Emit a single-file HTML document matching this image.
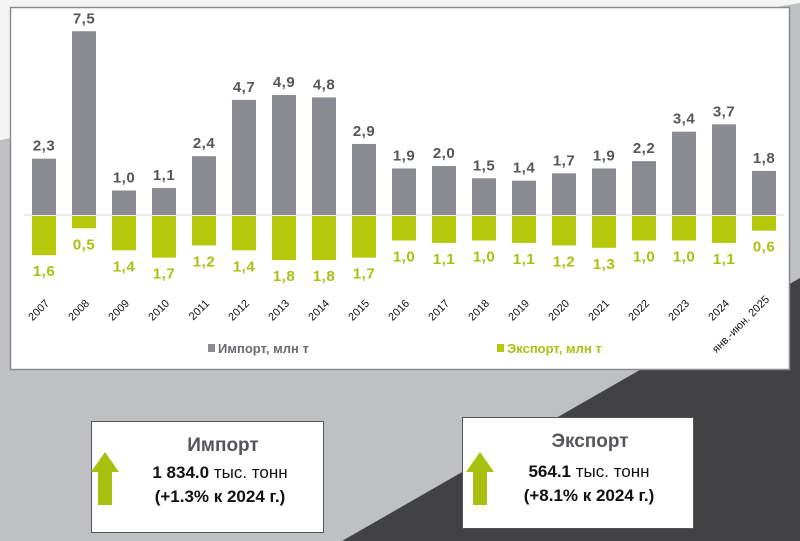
<!DOCTYPE html>
<html><head><meta charset="utf-8"><style>
html,body{margin:0;padding:0;width:800px;height:541px;overflow:hidden;font-family:"Liberation Sans","DejaVu Sans",sans-serif;}
</style></head><body>
<svg width="800" height="541" viewBox="0 0 800 541" xmlns="http://www.w3.org/2000/svg" font-family="Liberation Sans, DejaVu Sans, sans-serif">
<rect width="800" height="541" fill="#bfc0c2"/>
<polygon points="0,0 800,0 800,3 0,140" fill="#f4f4f4"/>
<polygon points="342,541 800,278 800,541" fill="#424244"/>
<rect x="10.5" y="7.5" width="779" height="362" fill="#fff" stroke="#8a8b8e" stroke-width="1.5"/>
<line x1="24" y1="215" x2="784" y2="215" stroke="#d8d8d8" stroke-width="1"/>
<g id="bars"></g>
<g font-size="15" font-weight="bold" fill="#555659" text-anchor="middle" id="vals" letter-spacing="0.5"></g>
<g font-size="11" fill="#111" id="years"></g>
<rect x="208" y="344" width="7" height="8" fill="#8a8b90"/>
<text x="218" y="353" font-size="13" font-weight="bold" fill="#6a6b6e">Импорт, млн т</text>
<rect x="497" y="344" width="7" height="8" fill="#b5c90a"/>
<text x="507" y="353" font-size="13" font-weight="bold" fill="#a9c010">Экспорт, млн т</text>

<rect x="91.5" y="421.5" width="232" height="111" fill="#fff" stroke="#555" stroke-width="1"/>
<polygon points="105,452 91,472 98,472 98,505 112,505 112,472 119,472" fill="#a8c010"/>
<text x="223" y="451" font-size="19" font-weight="bold" fill="#555659" text-anchor="middle">Импорт</text>
<text x="220" y="478" font-size="17" fill="#111" text-anchor="middle"><tspan font-weight="bold">1 834.0</tspan> тыс. тонн</text>
<text x="220" y="502" font-size="17" font-weight="bold" fill="#111" text-anchor="middle">(+1.3% к 2024 г.)</text>

<rect x="462.5" y="417.5" width="231" height="111" fill="#fff" stroke="#555" stroke-width="1"/>
<polygon points="480,452 466,472 473,472 473,505 487,505 487,472 494,472" fill="#a8c010"/>
<text x="590" y="447" font-size="19" font-weight="bold" fill="#555659" text-anchor="middle">Экспорт</text>
<text x="589" y="477" font-size="17" fill="#111" text-anchor="middle"><tspan font-weight="bold">564.1</tspan> тыс. тонн</text>
<text x="589" y="501" font-size="17" font-weight="bold" fill="#111" text-anchor="middle">(+8.1% к 2024 г.)</text>
</svg>
<script>
var imp=[2.3,7.5,1.0,1.1,2.4,4.7,4.9,4.8,2.9,1.9,2.0,1.5,1.4,1.7,1.9,2.2,3.4,3.7,1.8];
var exp=[1.6,0.5,1.4,1.7,1.2,1.4,1.8,1.8,1.7,1.0,1.1,1.0,1.1,1.2,1.3,1.0,1.0,1.1,0.6];
var yrs=["2007","2008","2009","2010","2011","2012","2013","2014","2015","2016","2017","2018","2019","2020","2021","2022","2023","2024","янв.-июн. 2025"];
var ns="http://www.w3.org/2000/svg",k=24.5,z=215;
var b=document.getElementById("bars"),v=document.getElementById("vals"),y=document.getElementById("years");
function el(t,a,p,txt){var e=document.createElementNS(ns,t);for(var q in a)e.setAttribute(q,a[q]);if(txt)e.textContent=txt;p.appendChild(e);return e;}
for(var i=0;i<19;i++){var c=44+i*40;
var h=imp[i]*k;el("rect",{x:c-12,y:z-h,width:24,height:h,fill:"#8a8b90"},b);
var he=exp[i]*k;el("rect",{x:c-12,y:z+1,width:24,height:he,fill:"#b5c90a"},b);
el("text",{x:c,y:z-h-8},v,imp[i].toFixed(1).replace(".",","));
el("text",{x:c,y:z+he+22,fill:"#a9c010"},v,exp[i].toFixed(1).replace(".",","));
var tx=c+6,ty=i==18?300:304;
el("text",{x:tx,y:ty,"text-anchor":"end",transform:"rotate(-45 "+tx+" "+ty+")"},y,yrs[i]);}
</script>
</body></html>
